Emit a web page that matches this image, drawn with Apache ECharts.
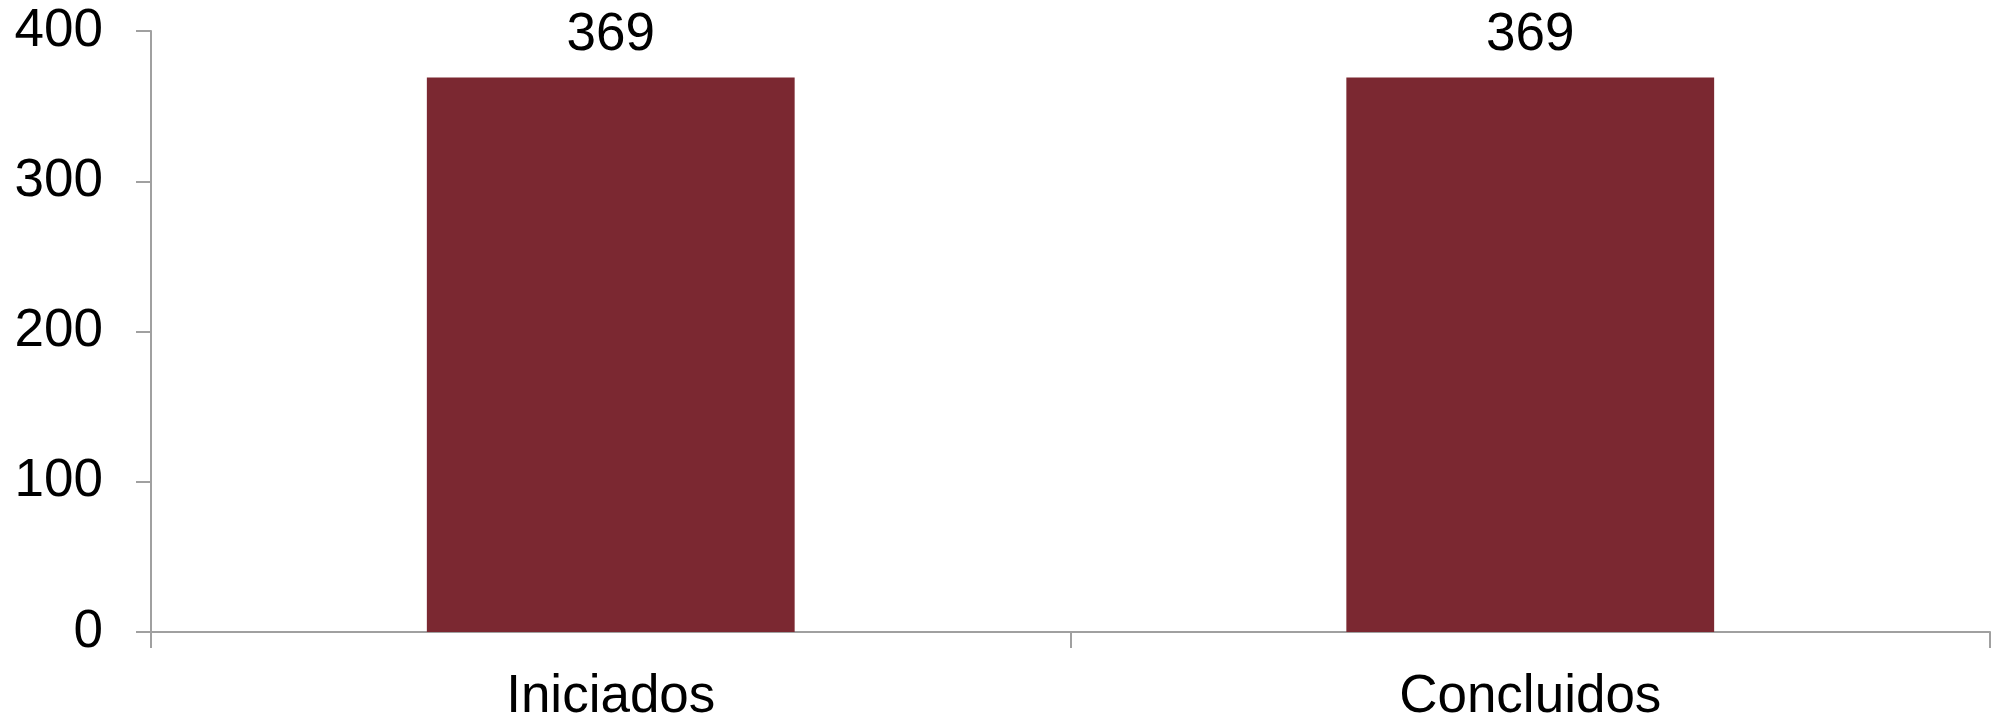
<!DOCTYPE html>
<html>
<head>
<meta charset="utf-8">
<script src="https://cdn.jsdelivr.net/npm/echarts@6/dist/echarts.min.js"></script>
<style>
html,body{margin:0;padding:0;background:#fff;}
#chart{width:2003px;height:721px;}
</style>
</head>
<body>
<div id="chart"></div>
<script>
var categories = ['Iniciados', 'Concluidos'];
var values = [369, 369];
var yMin = 0, yMax = 400, yInterval = 100;

var axisColor = '#a0a0a0';
var fontFamily = '"Liberation Sans", Arial, sans-serif';

var chart = echarts.init(document.getElementById('chart'), null, {renderer: 'canvas'});
chart.setOption({
  animation: false,
  backgroundColor: '#ffffff',
  grid: {left: 151, right: 13, top: 31, bottom: 89, containLabel: false, outerBoundsMode: 'none'},
  xAxis: {
    type: 'category',
    data: categories,
    boundaryGap: true,
    axisLine: {show: true, lineStyle: {color: axisColor, width: 2}},
    axisTick: {show: true, length: 16, lineStyle: {color: axisColor, width: 2}},
    axisLabel: {margin: 39, color: '#000', fontSize: 53, fontFamily: fontFamily},
    splitLine: {show: false}
  },
  yAxis: {
    type: 'value',
    min: yMin, max: yMax, interval: yInterval,
    axisLine: {show: true, lineStyle: {color: axisColor, width: 2}},
    axisTick: {show: true, length: 15, lineStyle: {color: axisColor, width: 2}},
    axisLabel: {margin: 48, color: '#000', fontSize: 53, fontFamily: fontFamily},
    splitLine: {show: false}
  },
  series: [{
    type: 'bar',
    data: values,
    barWidth: '40%',
    itemStyle: {color: '#7b2831'},
    label: {show: true, position: 'top', distance: 16, color: '#000', fontSize: 53, fontFamily: fontFamily}
  }]
});
</script>
</body>
</html>
